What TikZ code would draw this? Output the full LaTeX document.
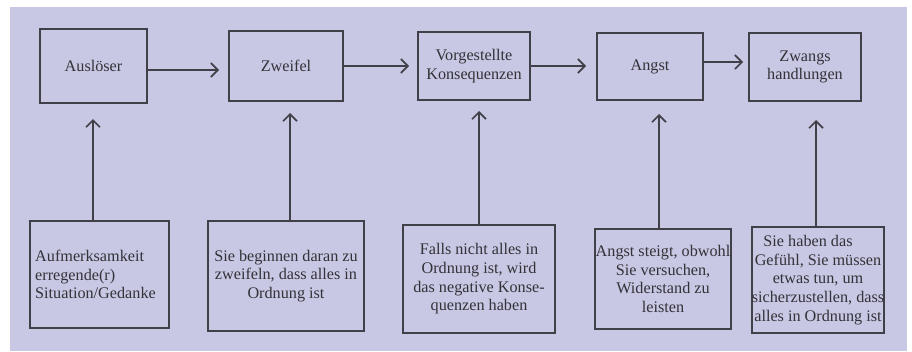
\documentclass[tikz,border=0pt]{standalone}
\usepackage{fontspec}
\setmainfont{Liberation Serif}
\newfontfamily\tnr{Liberation Serif}
\usetikzlibrary{arrows.meta}
\definecolor{bgc}{RGB}{200,200,228}
\definecolor{linec}{RGB}{64,64,72}
\definecolor{txtc}{RGB}{50,50,56}
\begin{document}
\begin{tikzpicture}[x=1pt,y=-1pt,
  box/.style={draw=linec,line width=1.3pt,fill=bgc,inner sep=0pt,align=center,
    text=txtc,font=\tnr\fontsize{16.2}{18.7}\selectfont},
  arr/.style={draw=linec,line width=1.6pt,-{Straight Barb[length=7pt,width=14pt,line width=1.6pt]}}]
\useasboundingbox (0,0) rectangle (912,351);
\fill[white] (0,0) rectangle (912,351);
\fill[bgc] (10,7) rectangle (907,351);
% top row
\node[box,minimum width=107pt,minimum height=74pt] (a) at (93.5,66) {\raisebox{-4pt}{Auslöser}};
\node[box,minimum width=114pt,minimum height=70pt] (b) at (286,66) {\raisebox{-2pt}{Zweifel}};
\node[box,minimum width=112pt,minimum height=68pt] (c) at (474,66) {Vorgestellte\\Konsequenzen};
\node[box,minimum width=106pt,minimum height=67pt] (d) at (650,66.5) {\raisebox{3pt}{Angst}};
\node[box,minimum width=112pt,minimum height=68pt] (e) at (805,67) {Zwangs\\handlungen};
% bottom row
\node[box,minimum width=139pt,minimum height=107pt,align=left] (b1) at (99.5,274.5) {\hspace*{-8pt}Aufmerksamkeit\\\hspace*{-8pt}erregende(r)\\\hspace*{-8pt}Situation/Gedanke};
\node[box,minimum width=156pt,minimum height=110pt] (b2) at (286,276) {Sie beginnen daran zu\\zweifeln, dass alles in\\Ordnung ist};
\node[box,minimum width=152pt,minimum height=108pt] (b3) at (479,279) {Falls nicht alles in\\Ordnung ist, wird\\das negative Konse-\\quenzen haben};
\node[box,minimum width=136pt,minimum height=100pt] (b4) at (663,279) {Angst steigt, obwohl\\Sie versuchen,\\Widerstand zu\\leisten};
\node[box,minimum width=132pt,minimum height=106pt] (b5) at (818,280) {Sie haben das\hspace*{20pt}\\Gefühl, Sie müssen\\etwas tun, um\\sicherzustellen, dass\\alles in Ordnung ist};
% arrow end points
\coordinate (h1) at (219,70);
\coordinate (h2) at (409,66);
\coordinate (h3) at (586,66);
\coordinate (h4) at (743,62);
\coordinate (t1) at (93,119);
\coordinate (t2) at (290,113);
\coordinate (t3) at (479,111);
\coordinate (t4) at (659,114);
\coordinate (t5) at (816,120);
% horizontal arrows
\draw[arr] (a.east |- h1) -- (h1);
\draw[arr] (b.east |- h2) -- (h2);
\draw[arr] (c.east |- h3) -- (h3);
\draw[arr] (d.east |- h4) -- (h4);
% vertical arrows
\draw[arr] (b1.north -| t1) -- (t1);
\draw[arr] (b2.north -| t2) -- (t2);
\draw[arr] (b3.north -| t3) -- (t3);
\draw[arr] (b4.north -| t4) -- (t4);
\draw[arr] (b5.north -| t5) -- (t5);
\end{tikzpicture}
\end{document}
